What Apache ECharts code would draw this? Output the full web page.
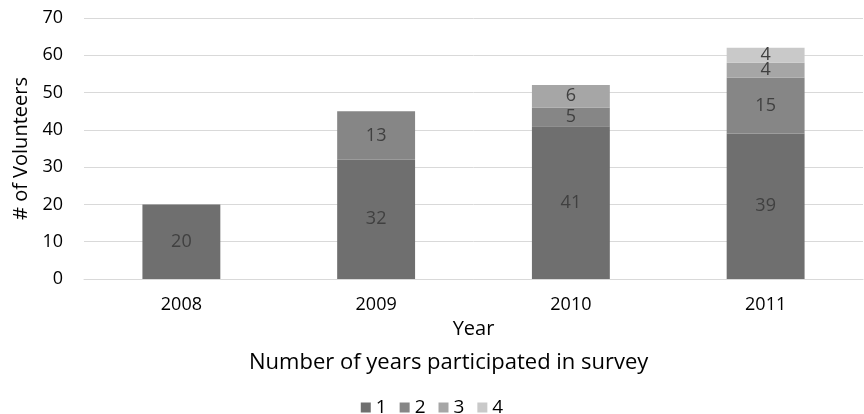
<!DOCTYPE html>
<html>
<head>
<meta charset="utf-8">
<script src="https://cdn.jsdelivr.net/npm/echarts@6/dist/echarts.min.js"></script>
<style>
  html, body { margin: 0; padding: 0; background: #fff; }
  #chart { width: 864px; height: 414px; }
</style>
</head>
<body>
<div id="chart"></div>
<script>
// Volunteers per survey year, split by how many years each had participated
const years = ['2008', '2009', '2010', '2011'];
const seriesNames = ['1', '2', '3', '4'];
const participated1 = [20, 32, 41, 39];
const participated2 = [null, 13, 5, 15];
const participated3 = [null, null, 6, 4];
const participated4 = [null, null, null, 4];
const yTicks = [0, 10, 20, 30, 40, 50, 60, 70];

const colors = ['#6f6f6f', '#868686', '#a6a6a6', '#c9c9c9'];
const values = [participated1, participated2, participated3, participated4];
const font = 'Open Sans, Noto Sans, sans-serif';

const chart = echarts.init(document.getElementById('chart'));
chart.setOption({
  animation: false,
  textStyle: { fontFamily: font },
  grid: { left: 84, right: 1, top: 18, bottom: 135, containLabel: false },
  legend: {
    top: 393,
    left: 'center',
    itemWidth: 10,
    itemHeight: 10,
    itemGap: 13,
    icon: 'rect',
    textStyle: { fontSize: 19, color: '#000', fontFamily: font },
    data: seriesNames
  },
  graphic: [{
    type: 'text',
    left: 249,
    top: 352,
    style: { text: 'Number of years participated in survey', fontSize: 22, fill: '#000', fontFamily: font }
  }],
  xAxis: {
    type: 'category',
    data: years,
    name: 'Year',
    nameLocation: 'middle',
    nameGap: 39,
    nameTextStyle: { fontSize: 20, color: '#000' },
    axisLine: { show: true, lineStyle: { color: '#d9d9d9' } },
    axisTick: { show: false },
    axisLabel: { fontSize: 18, color: '#000', margin: 17 }
  },
  yAxis: {
    type: 'value',
    min: yTicks[0],
    max: yTicks[yTicks.length - 1],
    interval: 10,
    name: '# of Volunteers',
    nameLocation: 'middle',
    nameGap: 49,
    nameTextStyle: { fontSize: 20, color: '#000' },
    axisLine: { show: false },
    axisTick: { show: false },
    axisLabel: { fontSize: 18, color: '#000', margin: 21 },
    splitLine: { lineStyle: { color: '#d9d9d9', width: 1 } }
  },
  series: seriesNames.map((name, i) => ({
    name: name,
    type: 'bar',
    stack: 'total',
    barWidth: '40%',
    data: values[i],
    itemStyle: { color: colors[i] },
    label: {
      show: true,
      position: 'inside',
      fontSize: 18,
      color: '#404040',
      fontFamily: font
    }
  }))
});
</script>
</body>
</html>
